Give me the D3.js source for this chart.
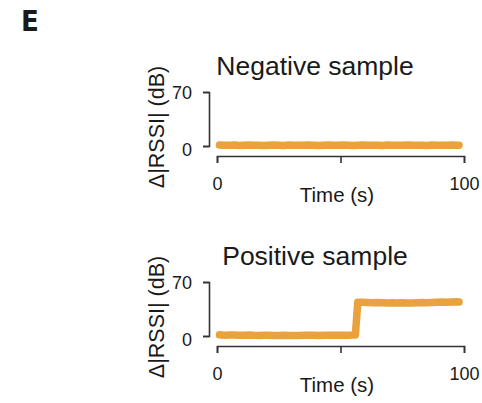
<!DOCTYPE html>
<html>
<head>
<meta charset="utf-8">
<script src="https://cdn.jsdelivr.net/npm/d3@7"></script>
<style>
  html, body { margin: 0; padding: 0; background: #ffffff; }
  svg { display: block; }
</style>
</head>
<body>
<svg id="chart" width="482" height="403"></svg>
<script>
// ---- Data ----
const panelTitles = ["Negative sample", "Positive sample"];
const xTickValues = [0, 50, 100];
const xTickLabels = ["0", "", "100"];
const yTickValues = [0, 70];
const yTickLabels = ["0", "70"];

const negTime = [1, 3, 5, 7, 9, 11, 13, 15, 17, 19, 21, 23, 25, 27, 29, 31, 33, 35, 37, 39,
  41, 43, 45, 47, 49, 51, 53, 55, 57, 59, 61, 63, 65, 67, 69, 71, 73, 75, 77, 79,
  81, 83, 85, 87, 89, 91, 93, 95, 97, 98];
const negValues = [1.2, 0.9, 1.1, 1.3, 0.8, 1.0, 1.2, 0.9, 1.1, 0.7, 1.0, 1.3, 1.1, 0.8, 1.2, 1.0, 0.9, 1.1, 1.3, 1.0,
  0.8, 1.1, 1.2, 0.9, 1.0, 1.3, 1.1, 0.8, 1.0, 1.2, 0.9, 1.1, 1.0, 0.8, 1.2, 1.1, 0.9, 1.0, 1.2, 0.9,
  1.1, 1.0, 0.8, 1.2, 1.1, 0.9, 1.0, 1.2, 1.1, 1.0];

const posTime = [1, 3, 5, 7, 9, 11, 13, 15, 17, 19, 21, 23, 25, 27, 29, 31, 33, 35, 37, 39,
  41, 43, 45, 47, 49, 51, 53, 55, 56, 57, 59, 61, 63, 65, 67, 69, 71, 73, 75, 77, 79,
  81, 83, 85, 87, 89, 91, 93, 95, 97, 98];
const posValues = [1.5, 1.0, 1.3, 1.2, 0.9, 1.1, 1.4, 1.0, 0.8, 1.1, 1.0, 0.7, 0.6, 0.9, 0.5, 0.7, 0.8, 1.0, 0.9, 1.1,
  0.8, 0.9, 1.0, 1.1, 0.9, 1.0, 1.1, 1.2, 1.4, 43.8, 43.6, 43.3, 43.1, 43.4, 43.2, 42.9, 43.1, 42.8, 43.0, 42.7, 42.9,
  43.2, 43.3, 43.1, 43.5, 43.8, 44.0, 43.9, 44.2, 44.3, 44.1];

const seriesTime = [negTime, posTime];
const seriesValues = [negValues, posValues];

// ---- Drawing ----
const svg = d3.select("#chart");
const lineColor = "#e9a23e";
const axisColor = "#333333";
const font = "'Liberation Sans', Arial, sans-serif";

svg.append("text")
  .attr("x", 21).attr("y", 31)
  .attr("font-family", "'DejaVu Sans Condensed', 'DejaVu Sans', sans-serif")
  .attr("font-weight", "bold")
  .attr("font-size", 29)
  .attr("fill", "#1a1a1a")
  .text("E");

const panelOffsets = [0, 190];

panelOffsets.forEach((off, i) => {
  const g = svg.append("g").attr("transform", `translate(0,${off})`);

  const x = d3.scaleLinear().domain([0, 100]).range([217, 464]);
  const y = d3.scaleLinear().domain([0, 70]).range([146, 92]);

  // title
  g.append("text")
    .attr("x", 315).attr("y", 75)
    .attr("text-anchor", "middle")
    .attr("font-family", font)
    .attr("font-size", 26.5)
    .attr("fill", "#1a1a1a")
    .text(panelTitles[i]);

  // y axis
  const yAxis = d3.axisLeft(y)
    .tickValues(yTickValues)
    .tickFormat((d, k) => yTickLabels[k])
    .tickSizeOuter(0)
    .tickSize(6)
    .tickPadding(11);
  const gy = g.append("g").attr("transform", "translate(209,0)").call(yAxis);
  gy.select(".domain").attr("stroke", axisColor).attr("stroke-width", 1.6);
  gy.selectAll(".tick line").attr("stroke", axisColor).attr("stroke-width", 1.6);
  gy.selectAll(".tick text")
    .attr("font-family", font).attr("font-size", 18).attr("fill", "#1a1a1a")
    .attr("dy", (d) => d === 0 ? "0.55em" : "0.35em");

  // x axis
  const xAxis = d3.axisBottom(x)
    .tickValues(xTickValues)
    .tickFormat((d, k) => xTickLabels[k])
    .tickSizeOuter(0)
    .tickSize(7)
    .tickPadding(14);
  const gx = g.append("g").attr("transform", "translate(0,156)").call(xAxis);
  gx.select(".domain").attr("stroke", axisColor).attr("stroke-width", 1.6);
  gx.selectAll(".tick line").attr("stroke", axisColor).attr("stroke-width", 1.6);
  gx.selectAll(".tick text")
    .attr("font-family", font).attr("font-size", 18).attr("fill", "#1a1a1a");

  // axis labels
  g.append("text")
    .attr("x", 337).attr("y", 202)
    .attr("text-anchor", "middle")
    .attr("font-family", font).attr("font-size", 20.5).attr("fill", "#1a1a1a")
    .text("Time (s)");

  g.append("text")
    .attr("transform", "translate(164,127) rotate(-90)")
    .attr("text-anchor", "middle")
    .attr("font-family", font).attr("font-size", 21.5).attr("fill", "#1a1a1a")
    .text("Δ|RSSI| (dB)");

  // data line
  const pts = seriesTime[i].map((t, k) => [t, seriesValues[i][k]]);
  const line = d3.line().x(d => x(d[0])).y(d => y(d[1]));
  g.append("path")
    .datum(pts)
    .attr("d", line)
    .attr("fill", "none")
    .attr("stroke", lineColor)
    .attr("stroke-width", 7.5)
    .attr("stroke-linecap", "round")
    .attr("stroke-linejoin", "round");
});
</script>
</body>
</html>
